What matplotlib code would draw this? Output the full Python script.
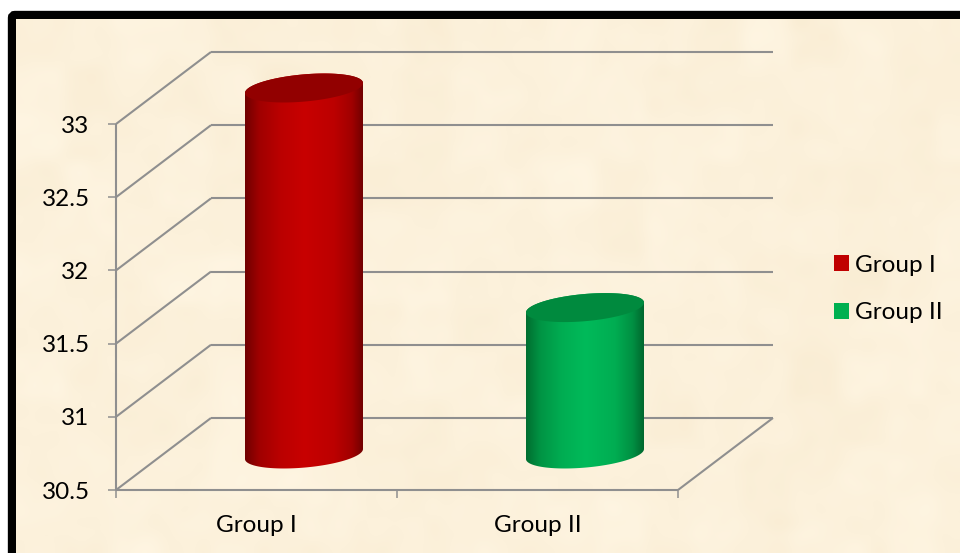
"""Parchment 3D cylinder chart, Group I against Group II."""
import numpy as np
import matplotlib
matplotlib.use("Agg")
import matplotlib.pyplot as plt
from matplotlib.colors import LinearSegmentedColormap
from matplotlib.patches import FancyBboxPatch, Patch, Polygon

categories = ["Group I", "Group II"]
values = [33, 31.5]
y_ticks = [30.5, 31, 31.5, 32, 32.5, 33]
y_tick_labels = ["30.5", "31", "31.5", "32", "32.5", "33"]

W, H = 960, 553
GRID = "#8f8f8f"
FONT = "Lato"
FONT_SIZE = 17.5

# depth of the fake 3D box, in data units of the front plane
DEPTH_X = 0.338
DEPTH_Y = 0.492
# cylinder ellipse, in data units
RADIUS_X = 0.21
TILT_Y = 0.034
RADIUS_Y = 0.093

SHADE_STOPS = [0, 0.12, 0.3, 0.5, 0.75, 0.9, 1]
SHADES = {
    "Group I": ["#700000", "#a00000", "#bb0000", "#c80000", "#bc0000", "#a00000", "#6e0000"],
    "Group II": ["#006e30", "#009444", "#00ad52", "#00ba5a", "#00ad52", "#008f42", "#00642c"],
}
TOPS = {"Group I": "#920000", "Group II": "#008a3e"}
LEGEND = {"Group I": "#c00000", "Group II": "#00b050"}


def ellipse_points(cx, cy, start, stop):
    """Points on the tilted cylinder ellipse, angle given in radians."""
    t = np.linspace(start, stop, 120)
    return np.column_stack(
        [cx + RADIUS_X * np.cos(t), cy + TILT_Y * np.cos(t) + RADIUS_Y * np.sin(t)]
    )


def draw_cylinder(ax, cx, base, top, name):
    """Draw one shaded cylinder from base to top at x position cx."""
    lower = ellipse_points(cx, base, np.pi, 2 * np.pi)
    upper = ellipse_points(cx, top, 0, np.pi)
    body = Polygon(np.vstack([lower, upper]), closed=True, facecolor="none", edgecolor="none",
                   zorder=3, clip_on=False)
    ax.add_patch(body)
    cmap = LinearSegmentedColormap.from_list(name, list(zip(SHADE_STOPS, SHADES[name])))
    gradient = np.linspace(0, 1, 256).reshape(1, -1)
    image = ax.imshow(
        gradient,
        cmap=cmap,
        aspect="auto",
        extent=(cx - RADIUS_X, cx + RADIUS_X, base - 0.2, top + 0.2),
        zorder=3,
    )
    # the cylinder sticks out of the front plane, so only the figure may clip it
    image.set_clip_box(ax.figure.bbox)
    image.set_clip_path(body)
    cap = Polygon(ellipse_points(cx, top, 0, 2 * np.pi), closed=True, facecolor=TOPS[name],
                  edgecolor="none", zorder=4, clip_on=False)
    ax.add_patch(cap)


fig = plt.figure(figsize=(W / 100, H / 100), dpi=100, facecolor="white")

# backdrop in pixel coordinates: black frame and parchment fill
bg = fig.add_axes([0, 0, 1, 1])
bg.set_xlim(0, W)
bg.set_ylim(H, 0)
bg.axis("off")
bg.add_patch(FancyBboxPatch((12, 15), W + 40, H + 40, boxstyle="round,pad=0,rounding_size=3",
                            facecolor="black", edgecolor="black", linewidth=6))

rng = np.random.default_rng(4)
coarse = rng.normal(0, 1, (14, 24))
fine = rng.normal(0, 1, (45, 78))
base_rgb = np.array([252, 241, 219]) / 255
mottle_a = np.kron(coarse, np.ones((45 // 14 + 1, 78 // 24 + 1)))[:45, :78]
shade = 0.005 * mottle_a + 0.004 * fine
texture = np.clip(base_rgb[None, None, :] + shade[..., None] * np.array([0.6, 1.0, 1.7]), 0, 1)
bg.imshow(texture, extent=(16, W, H, 19), interpolation="bicubic", aspect="auto", zorder=2)
bg.set_xlim(0, W)
bg.set_ylim(H, 0)

# main axes is the front plane of the box
left, right, top_px, bottom_px = 116, 678, 124, 490
ax = fig.add_axes([left / W, 1 - bottom_px / H, (right - left) / W, (bottom_px - top_px) / H])
ax.patch.set_alpha(0)
for spine in ax.spines.values():
    spine.set_visible(False)

x_max = len(categories)
line_style = {"color": GRID, "linewidth": 1.5, "clip_on": False, "solid_capstyle": "butt", "zorder": 1}

for tick in y_ticks:
    ax.plot([0, DEPTH_X], [tick, tick + DEPTH_Y], **line_style)
    ax.plot([DEPTH_X, x_max + DEPTH_X], [tick + DEPTH_Y, tick + DEPTH_Y], **line_style)
ax.plot([0, 0], [y_ticks[0], y_ticks[-1]], **line_style)
ax.plot([0, x_max], [y_ticks[0], y_ticks[0]], **line_style)
ax.plot([x_max, x_max + DEPTH_X], [y_ticks[0], y_ticks[0] + DEPTH_Y], **line_style)

for i, (name, value) in enumerate(zip(categories, values)):
    draw_cylinder(ax, i + 0.5 + DEPTH_X / 2, y_ticks[0] + DEPTH_Y / 2, value + DEPTH_Y / 2, name)

ax.set_xlim(0, x_max)
ax.set_ylim(y_ticks[0], y_ticks[-1])
ax.set_yticks(y_ticks)
ax.set_yticklabels(y_tick_labels, family=FONT, fontsize=FONT_SIZE, color="black")
ax.set_xticks(range(x_max + 1))
ax.set_xticklabels([""] * (x_max + 1))
ax.tick_params(axis="both", length=5.5, width=1.1, color=GRID)
ax.tick_params(axis="y", pad=13.5)
for i, name in enumerate(categories):
    ax.text(i + 0.5, y_ticks[0] - 0.245, name, family=FONT, fontsize=FONT_SIZE, color="black",
            ha="center", va="center")

handles = [Patch(facecolor=LEGEND[name], edgecolor="none", label=name) for name in categories]
ax.legend(
    handles=handles,
    loc="upper left",
    bbox_to_anchor=(824 / W, 1 - 245 / H),
    bbox_transform=fig.transFigure,
    frameon=False,
    prop={"family": FONT, "size": FONT_SIZE},
    handlelength=0.62,
    handleheight=0.62,
    handletextpad=0.24,
    labelspacing=1.1,
    borderaxespad=0,
    borderpad=0.4,
)

fig.savefig("out.png", dpi=100)
